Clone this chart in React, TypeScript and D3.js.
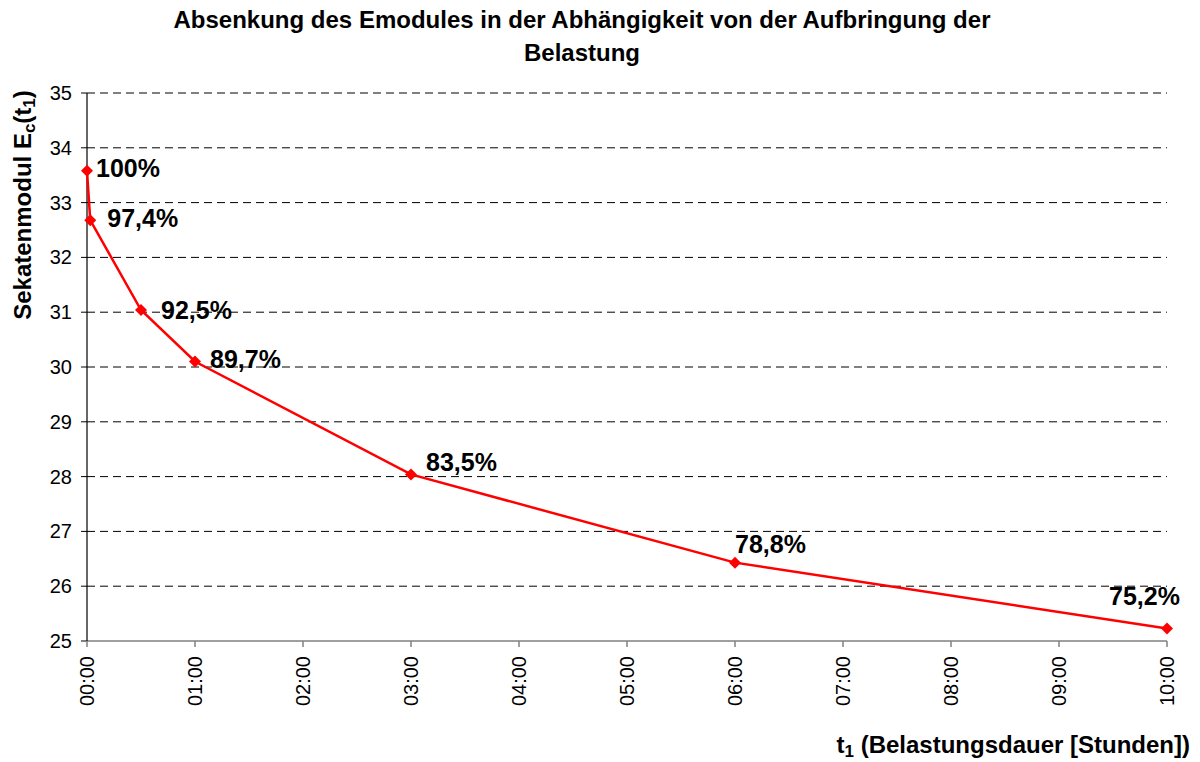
import React from 'react'
import { scaleLinear, line } from 'd3'

// Belastungsdauer in Stunden, Sekantenmodul, Beschriftung
const hours = [0, 0.03, 0.5, 1, 3, 6, 10]
const modulus = [33.58, 32.68, 31.04, 30.1, 28.04, 26.43, 25.23]
const labels = ['100%', '97,4%', '92,5%', '89,7%', '83,5%', '78,8%', '75,2%']
const yTicks = [25, 26, 27, 28, 29, 30, 31, 32, 33, 34, 35]
const xTicks = [0, 1, 2, 3, 4, 5, 6, 7, 8, 9, 10]

// label placement relative to the point (dx, baseline dy)
const labelOffsets = [
  [9, 6], [17, 7], [20, 9], [15, 6], [15, -3], [0, -10], [-58, -23],
]

const W = 1200
const H = 762
const margin = { top: 93, right: 33, bottom: 121, left: 87 }
const font = 'Liberation Sans, Arial, sans-serif'

const fmt = (h: number) => (h < 10 ? '0' + h : '' + h) + ':00'

export default function App() {
  const x = scaleLinear().domain([0, 10]).range([margin.left, W - margin.right])
  const y = scaleLinear().domain([25, 35]).range([H - margin.bottom, margin.top])
  const pts = hours.map((h, i) => [h, modulus[i]] as [number, number])
  const path = line<[number, number]>().x(d => x(d[0])).y(d => y(d[1]))(pts)

  return (
    <svg width={W} height={H} style={{ position: 'absolute', left: 0, top: 0, background: '#fff' }}
      fontFamily={font}>
      <text x={582} y={28} textAnchor="middle" fontSize={24} fontWeight="bold">
        Absenkung des Emodules in der Abhängigkeit von der Aufbringung der
      </text>
      <text x={582} y={61} textAnchor="middle" fontSize={24} fontWeight="bold">Belastung</text>

      {yTicks.map(t => (
        <g key={t}>
          {t > 25 && (
            <line x1={x(0)} x2={x(10)} y1={y(t)} y2={y(t)} stroke="#000" strokeWidth={1}
              strokeDasharray="8,5" />
          )}
          <line x1={x(0) - 6} x2={x(0)} y1={y(t)} y2={y(t)} stroke="#000" />
          <text x={x(0) - 15} y={y(t)} dy="0.35em" textAnchor="end" fontSize={20}>{t}</text>
        </g>
      ))}

      <line x1={x(0)} x2={x(10)} y1={y(25)} y2={y(25)} stroke="#808080" strokeWidth={1.5} />
      {xTicks.map(t => (
        <g key={t}>
          <line x1={x(t)} x2={x(t)} y1={y(25)} y2={y(25) + 6} stroke="#808080" strokeWidth={1.5} />
          <text transform={`translate(${x(t) + 7},${y(25) + 15}) rotate(-90)`} textAnchor="end"
            fontSize={20}>{fmt(t)}</text>
        </g>
      ))}
      <line x1={x(0)} x2={x(0)} y1={y(35)} y2={y(25)} stroke="#000" strokeWidth={1.2} />

      <path d={path ?? ''} fill="none" stroke="#ff0000" strokeWidth={2.5} />
      {pts.map((d, i) => (
        <g key={i}>
          <path d="M0,-6L6,0L0,6L-6,0Z" fill="#ff0000"
            transform={`translate(${x(d[0])},${y(d[1])})`} />
          <text x={x(d[0]) + labelOffsets[i][0]} y={y(d[1]) + labelOffsets[i][1]}
            fontSize={25} fontWeight="bold">{labels[i]}</text>
        </g>
      ))}

      <text transform="translate(31,205) rotate(-90)" textAnchor="middle" fontSize={24}
        fontWeight="bold">
        Sekatenmodul E<tspan fontSize={17} dy={4}>c</tspan><tspan dy={-4}>(t</tspan>
        <tspan fontSize={17} dy={4}>1</tspan><tspan dy={-4}>)</tspan>
      </text>
      <text x={1190} y={753} textAnchor="end" fontSize={24} fontWeight="bold">
        t<tspan fontSize={17} dy={4}>1</tspan><tspan dy={-4}> (Belastungsdauer [Stunden])</tspan>
      </text>
    </svg>
  )
}
